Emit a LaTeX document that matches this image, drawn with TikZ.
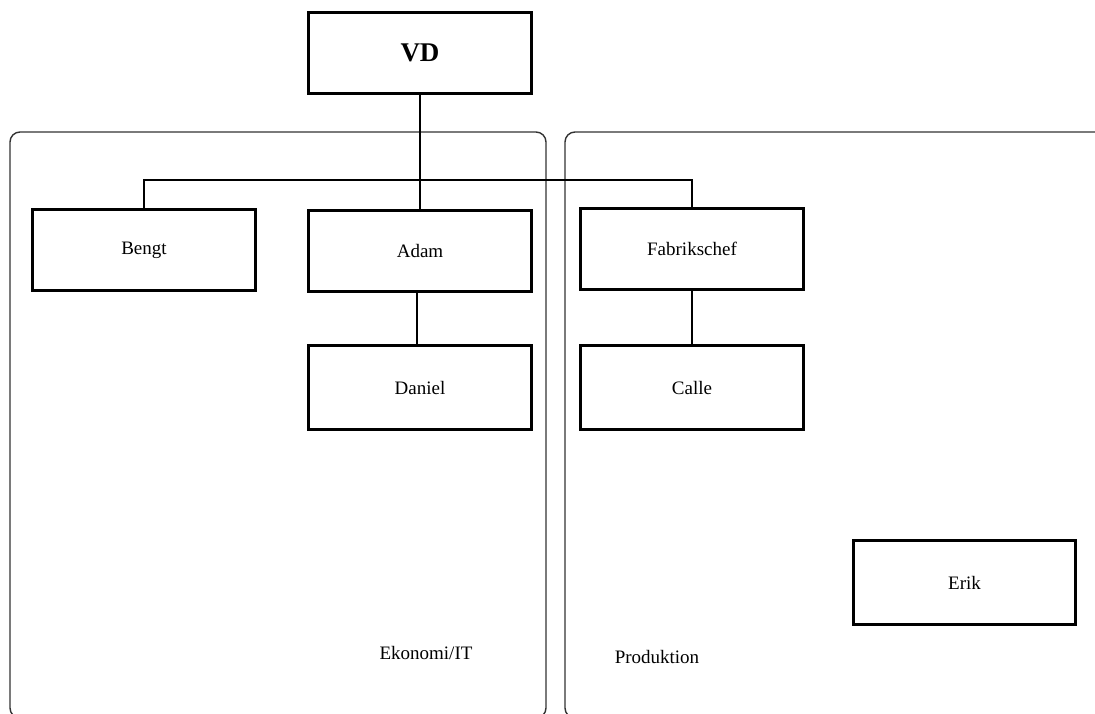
\documentclass[tikz,border=0pt]{standalone}
\usepackage{fontspec}
\setmainfont{Liberation Serif}
\begin{document}
\begin{tikzpicture}[x=1pt,y=-1pt,
  orgbox/.style={draw, line width=3pt, minimum width=223pt, minimum height=81pt, inner sep=0pt, anchor=north west, font=\fontsize{19}{22}\selectfont},
  link/.style={line width=2pt},
  region/.style={draw=black!80, line width=1.4pt, rounded corners=10pt},
  lbl/.style={font=\fontsize{19}{22}\selectfont, inner sep=0pt}]
\useasboundingbox (0,0) rectangle (1095,713);
\fill[white] (0,0) rectangle (1095,713);
% regions
\draw[region] (10,132) rectangle (546,718);
\draw[region] (565,132) rectangle (1115,718);
% boxes
\node[orgbox, font=\fontsize{27}{30}\selectfont\bfseries] (vd) at (307,11) {VD};
\node[orgbox] (bengt) at (31,208) {Bengt};
\node[orgbox] (adam) at (307,209) {Adam};
\node[orgbox, minimum height=84pt] (daniel) at (307,344) {Daniel};
\node[orgbox] (fab) at (579,207) {Fabrikschef};
\node[orgbox, minimum height=84pt] (calle) at (579,344) {Calle};
\node[orgbox, minimum width=222pt, minimum height=84pt] (erik) at (852,539) {Erik};
% labels
\node[lbl] (eko) at (426,653) {Ekonomi/IT};
\node[lbl] (prod) at (657,657) {Produktion};
% connectors
\draw[link] (vd.south) -- (vd.south |- adam.north);
\draw[link] (bengt.north) -- (bengt.north |- 0,180) -- (fab.north |- 0,180) -- (fab.north);
\draw[link] ([xshift=-3pt]adam.south) -- ([xshift=-3pt]daniel.north);
\draw[link] (fab.south) -- (calle.north);
\end{tikzpicture}
\end{document}
